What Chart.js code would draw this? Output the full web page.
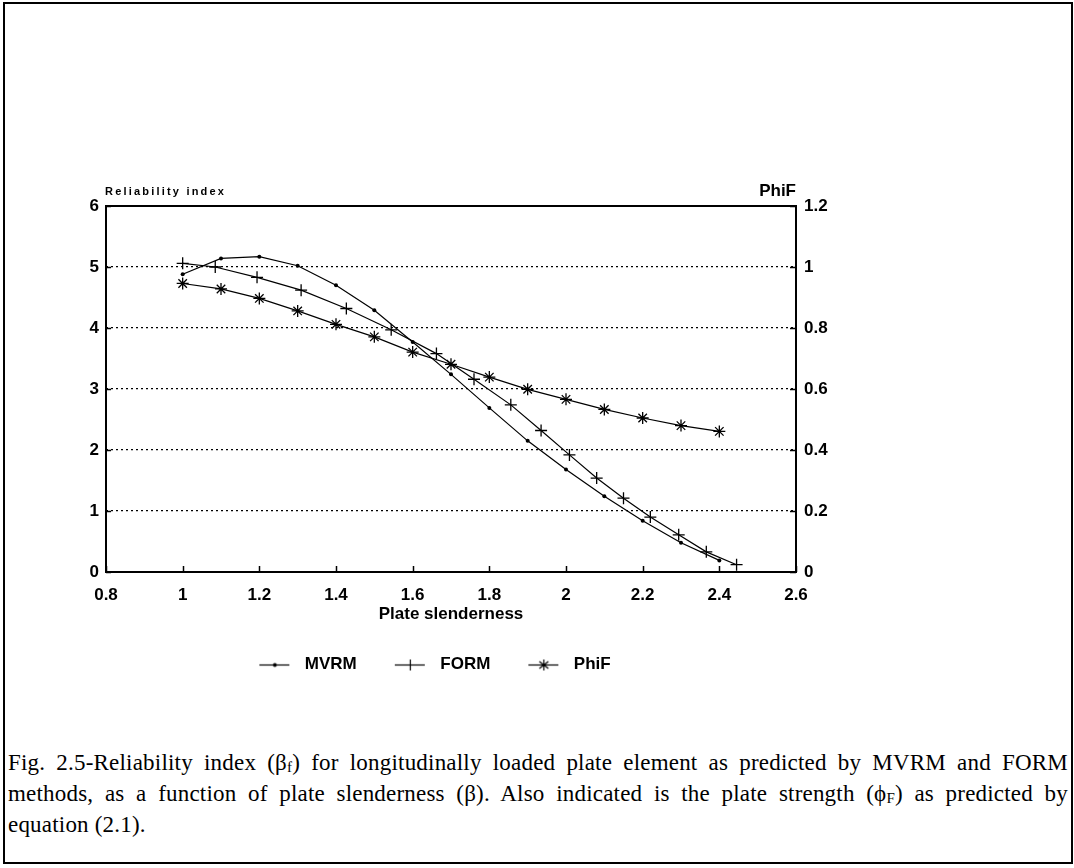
<!DOCTYPE html>
<html>
<head>
<meta charset="utf-8">
<script src="https://cdn.jsdelivr.net/npm/chart.js@4/dist/chart.umd.min.js"></script>
<style>
  html, body { margin: 0; padding: 0; background: #fff; }
  #frame {
    position: absolute; left: 3px; top: 2px; width: 1066px; height: 858px;
    border: 2px solid #000;
  }
  #wrap { position: absolute; left: -5px; top: -4px; width: 1074px; height: 740px; }
  #caption {
    position: absolute; left: 3px; top: 743px; width: 1060px;
    font-family: "Liberation Serif", "Times New Roman", serif;
    font-size: 23px; line-height: 31px; letter-spacing: 0.2px; color: #000;
  }
  #caption .j { text-align: justify; text-align-last: justify; }
  #caption sub { font-size: 15px; vertical-align: -2px; line-height: 0; }
</style>
</head>
<body>
<div id="frame">
  <div id="wrap"><canvas id="myChart" width="1074" height="740"></canvas></div>
  <div id="caption">
    <div class="j">Fig. 2.5-Reliability index (&beta;<sub>f</sub>) for longitudinally loaded plate element as predicted by MVRM and FORM</div>
    <div class="j">methods, as a function of plate slenderness (&beta;). Also indicated is the plate strength (&#x3D5;<sub>F</sub>) as predicted by</div>
    <div>equation (2.1).</div>
  </div>
</div>
<script>
// plate slenderness values shared by MVRM and PhiF
const slenderness = [1.0, 1.1, 1.2, 1.3, 1.4, 1.5, 1.6, 1.7, 1.8, 1.9, 2.0, 2.1, 2.2, 2.3, 2.4]
const mvrm = [4.88, 5.14, 5.17, 5.02, 4.70, 4.29, 3.77, 3.24, 2.69, 2.15, 1.68, 1.24, 0.84, 0.48, 0.19]
const phiF = [0.946, 0.928, 0.897, 0.856, 0.812, 0.771, 0.721, 0.681, 0.639, 0.599, 0.566, 0.533, 0.505, 0.480, 0.461]

// FORM was evaluated at its own slenderness points
const formX = [1.0, 1.085, 1.194, 1.309, 1.427, 1.544, 1.662, 1.76, 1.856, 1.935, 2.009, 2.08, 2.15, 2.22, 2.294, 2.366, 2.445]
const formY = [5.06, 5.0, 4.83, 4.62, 4.32, 3.97, 3.58, 3.16, 2.74, 2.32, 1.92, 1.54, 1.21, 0.90, 0.61, 0.33, 0.12]

const xTicks = [0.8, 1, 1.2, 1.4, 1.6, 1.8, 2, 2.2, 2.4, 2.6]
const leftTicks = [0, 1, 2, 3, 4, 5, 6]
const rightTicks = [0, 0.2, 0.4, 0.6, 0.8, 1, 1.2]

const FONT = '"Liberation Sans", Arial, sans-serif'

const pairs = (xs, ys) => xs.map((x, i) => ({ x: x, y: ys[i] }))

// legend swatch: a short line with the marker in the middle,
// with some blank space either side to space the legend entries
function swatch(kind) {
  const c = document.createElement('canvas')
  c.width = 45; c.height = 14
  const g = c.getContext('2d')
  g.strokeStyle = '#000'; g.fillStyle = '#000'; g.lineWidth = 1.2
  g.beginPath(); g.moveTo(8, 7.5); g.lineTo(38, 7.5); g.stroke()
  const cx = 23.5
  if (kind === 'dot') {
    g.beginPath(); g.arc(cx, 7.5, 2, 0, Math.PI * 2); g.fill()
  } else if (kind === 'cross') {
    g.beginPath(); g.moveTo(cx, 2); g.lineTo(cx, 13); g.stroke()
  } else {
    g.beginPath()
    g.moveTo(cx, 2); g.lineTo(cx, 13)
    g.moveTo(cx - 4.5, 4); g.lineTo(cx + 4.5, 11)
    g.moveTo(cx + 4.5, 4); g.lineTo(cx - 4.5, 11)
    g.stroke()
  }
  return c
}

// plot frame, inward ticks and the two axis captions
const framePlugin = {
  id: 'framePlugin',
  afterDraw(chart) {
    const { ctx, chartArea: a, scales } = chart
    ctx.save()
    ctx.strokeStyle = '#000'
    ctx.lineWidth = 2
    ctx.strokeRect(a.left, a.top, a.right - a.left, a.bottom - a.top)
    ctx.lineWidth = 1.5
    ctx.beginPath()
    xTicks.forEach(v => {
      const px = Math.round(scales.x.getPixelForValue(v)) + 0.5
      ctx.moveTo(px, a.bottom); ctx.lineTo(px, a.bottom - 6)
    })
    leftTicks.forEach(v => {
      const py = Math.round(scales.y.getPixelForValue(v)) + 0.5
      ctx.moveTo(a.left, py); ctx.lineTo(a.left + 5, py)
    })
    rightTicks.forEach(v => {
      const py = Math.round(scales.y1.getPixelForValue(v)) + 0.5
      ctx.moveTo(a.right, py); ctx.lineTo(a.right - 6, py)
    })
    ctx.stroke()
    ctx.fillStyle = '#000'
    ctx.textBaseline = 'alphabetic'
    ctx.font = 'bold 11px ' + FONT
    ctx.textAlign = 'left'
    if ('letterSpacing' in ctx) ctx.letterSpacing = '2.2px'
    ctx.fillText('Reliability index', a.left - 1, a.top - 11)
    if ('letterSpacing' in ctx) ctx.letterSpacing = '0px'
    ctx.font = 'bold 17px ' + FONT
    ctx.textAlign = 'right'
    ctx.fillText('PhiF', a.right, a.top - 10)
    ctx.restore()
  }
}

const ctx = document.getElementById('myChart').getContext('2d')
const myChart = new Chart(ctx, {
  type: 'scatter',
  data: {
    datasets: [{
      label: 'MVRM',
      data: pairs(slenderness, mvrm),
      yAxisID: 'y',
      showLine: true,
      borderColor: '#000',
      backgroundColor: '#000',
      borderWidth: 1.2,
      pointStyle: 'circle',
      pointRadius: 2,
      pointBorderWidth: 0,
      legendSwatch: swatch('dot')
    }, {
      label: 'FORM',
      data: pairs(formX, formY),
      yAxisID: 'y',
      showLine: true,
      borderColor: '#000',
      backgroundColor: '#000',
      borderWidth: 1.2,
      pointStyle: 'cross',
      pointRadius: 6,
      pointBorderWidth: 1.3,
      legendSwatch: swatch('cross')
    }, {
      label: 'PhiF',
      data: pairs(slenderness, phiF),
      yAxisID: 'y1',
      showLine: true,
      borderColor: '#000',
      backgroundColor: '#000',
      borderWidth: 1.2,
      pointStyle: 'star',
      pointRadius: 6,
      pointBorderWidth: 1.3,
      legendSwatch: swatch('star')
    }]
  },
  options: {
    responsive: false,
    animation: false,
    layout: { padding: { left: 0, right: 212, top: 206, bottom: 57 } },
    elements: { line: { tension: 0 } },
    scales: {
      x: {
        type: 'linear',
        min: 0.8, max: 2.6,
        afterBuildTicks: s => { s.ticks = xTicks.map(v => ({ value: v })) },
        afterFit: s => { s.height = 54 },
        grid: { display: false, drawTicks: false },
        border: { display: false },
        ticks: {
          color: '#000', padding: 13,
          font: { family: FONT, size: 17, weight: 'bold' },
          callback: v => String(v)
        },
        title: {
          display: true, text: 'Plate slenderness', color: '#000',
          font: { family: FONT, size: 17, weight: 'bold' },
          padding: { top: 2, bottom: 1 }
        }
      },
      y: {
        position: 'left',
        min: 0, max: 6,
        afterBuildTicks: s => { s.ticks = leftTicks.map(v => ({ value: v })) },
        afterFit: s => { s.width = 106 },
        grid: {
          drawTicks: false,
          color: c => (c.tick.value === 0 || c.tick.value === 6) ? 'rgba(0,0,0,0)' : '#000',
          lineWidth: 1.3
        },
        border: { display: false, dash: [2, 3] },
        ticks: {
          color: '#000', padding: 7,
          font: { family: FONT, size: 17, weight: 'bold' }
        }
      },
      y1: {
        position: 'right',
        min: 0, max: 1.2,
        afterBuildTicks: s => { s.ticks = rightTicks.map(v => ({ value: v })) },
        afterFit: s => { s.width = 66 },
        grid: { display: false, drawTicks: false },
        border: { display: false },
        ticks: {
          color: '#000', padding: 8,
          font: { family: FONT, size: 17, weight: 'bold' },
          callback: v => String(Math.round(v * 10) / 10)
        }
      }
    },
    plugins: {
      tooltip: { enabled: false },
      legend: {
        position: 'bottom',
        labels: {
          color: '#000',
          font: { family: FONT, size: 17, weight: 'bold' },
          usePointStyle: true,
          pointStyleWidth: 45,
          padding: 30,
          generateLabels: chart => chart.data.datasets.map((d, i) => ({
            text: d.label,
            pointStyle: d.legendSwatch,
            fillStyle: '#000',
            strokeStyle: '#000',
            lineWidth: 0,
            fontColor: '#000',
            datasetIndex: i
          }))
        }
      }
    }
  },
  plugins: [framePlugin]
})
</script>
</body>
</html>
